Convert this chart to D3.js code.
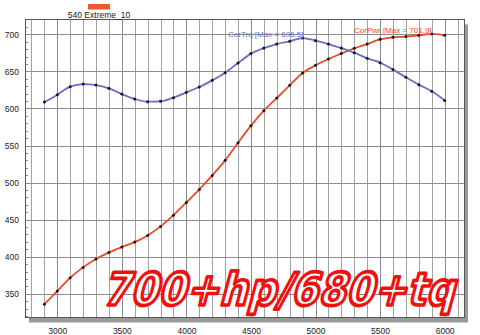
<!DOCTYPE html>
<html>
<head>
<meta charset="utf-8">
<script src="https://cdn.jsdelivr.net/npm/d3@7"></script>
<style>
	body { margin: 0; background: #fff; }
	svg { display: block; font-family: "Liberation Sans", Arial, sans-serif; }
</style>
</head>
<body>
<div id="chart"></div>
<script>
var rpm = [2900, 3000, 3100, 3200, 3300, 3400, 3500, 3600, 3700, 3800, 3900, 4000, 4100, 4200, 4300, 4400,
	4500, 4600, 4700, 4800, 4900, 5000, 5100, 5200, 5300, 5400, 5500, 5600, 5700, 5800, 5900, 6000];
var corTrq = [608.6, 618.6, 629.4, 632.9, 631.6, 627.1, 619.4, 612.7, 609.2, 609.6, 614.6, 621.7, 628.9, 637.9, 648.3, 661.3,
	674.0, 681.5, 686.9, 690.6, 695.0, 691.5, 686.9, 681.5, 675.3, 667.6, 661.8, 652.4, 642.0, 632.1, 623.1, 610.9];
var corPwr = [336.0, 353.6, 371.6, 385.6, 396.8, 405.8, 413.0, 419.7, 428.7, 440.9, 456.1, 473.3, 490.8, 509.7, 530.0, 553.8,
	576.8, 597.0, 614.0, 631.2, 647.8, 658.2, 666.7, 674.0, 681.1, 686.9, 693.3, 696.0, 696.9, 698.7, 700.5, 698.7];
var xTicks = [3000, 3500, 4000, 4500, 5000, 5500, 6000];
var yTicks = [350, 400, 450, 500, 550, 600, 650, 700];
var runName = "540 Extreme_10";
var trqLabel = "CorTrq [Max = 696.5]";
var pwrLabel = "CorPwr [Max = 701.9]";
var bigText = "700+hp/680+tq";

var config = {
	width: 480,
	height: 335,
	left: 25,
	top: 19.5,
	right: 464,
	bottom: 317.5,
	trqColor: "#6b6bd0",
	pwrColor: "#ee4a26",
	gridColor: "#a2a2a2"
};

var svg = d3.select("#chart").append("svg")
	.attr("width", config.width)
	.attr("height", config.height);

var x = d3.scaleLinear().domain([2750, 6150]).range([config.left, config.right]);
var y = d3.scaleLinear().domain([318, 720]).range([config.bottom, config.top]);

// drop shadow behind the plot frame
svg.append("rect")
	.attr("x", config.left + 4)
	.attr("y", config.top + 5)
	.attr("width", config.right - config.left)
	.attr("height", config.bottom - config.top)
	.attr("fill", "#9a9a9a");

svg.append("rect")
	.attr("x", config.left)
	.attr("y", config.top)
	.attr("width", config.right - config.left)
	.attr("height", config.bottom - config.top)
	.attr("fill", "#fff");

// vertical grid every 100 rpm
var vGrid = d3.range(2800, 6101, 100);
svg.append("g").selectAll("line").data(vGrid).enter().append("line")
	.attr("x1", function(d){ return Math.round(x(d)) + 0.5; })
	.attr("x2", function(d){ return Math.round(x(d)) + 0.5; })
	.attr("y1", config.top)
	.attr("y2", config.bottom)
	.attr("stroke", function(d){ return d % 500 === 0 ? "#8a8a8a" : config.gridColor; })
	.attr("stroke-width", 1);

// horizontal grid
svg.append("g").selectAll("line").data(yTicks).enter().append("line")
	.attr("x1", config.left)
	.attr("x2", config.right)
	.attr("y1", function(d){ return Math.round(y(d)) + 0.5; })
	.attr("y2", function(d){ return Math.round(y(d)) + 0.5; })
	.attr("stroke", "#8c8c8c")
	.attr("stroke-width", 1);

// minor ticks on the left axis
var minor = d3.range(320, 720, 10).filter(function(d){ return d % 50 !== 0; });
svg.append("g").selectAll("line").data(minor).enter().append("line")
	.attr("x1", config.left)
	.attr("x2", config.left + 3)
	.attr("y1", function(d){ return Math.round(y(d)) + 0.5; })
	.attr("y2", function(d){ return Math.round(y(d)) + 0.5; })
	.attr("stroke", "#888");

// frame
svg.append("rect")
	.attr("x", config.left + 0.5)
	.attr("y", config.top)
	.attr("width", config.right - config.left)
	.attr("height", config.bottom - config.top)
	.attr("fill", "none")
	.attr("stroke", "#555")
	.attr("stroke-width", 1);

// axis labels
var yAxis = svg.append("g")
	.attr("transform", "translate(" + config.left + ",0)")
	.call(d3.axisLeft(y).tickValues(yTicks).tickSize(0).tickPadding(6).tickFormat(d3.format("d")));
yAxis.select(".domain").remove();
yAxis.selectAll("text").attr("font-size", 8.5).attr("fill", "#222").attr("font-family", "Liberation Sans, Arial, sans-serif");

var xAxis = svg.append("g")
	.attr("transform", "translate(0," + (config.bottom + 5) + ")")
	.call(d3.axisBottom(x).tickValues(xTicks).tickSize(0).tickPadding(5).tickFormat(d3.format("d")));
xAxis.select(".domain").remove();
xAxis.selectAll("text").attr("font-size", 8.5).attr("fill", "#222").attr("font-family", "Liberation Sans, Arial, sans-serif");

// legend
svg.append("rect")
	.attr("x", 88)
	.attr("y", 4)
	.attr("width", 22)
	.attr("height", 5.5)
	.attr("fill", "#ec5a2c");
svg.append("text")
	.attr("x", 99)
	.attr("y", 17.5)
	.attr("text-anchor", "middle")
	.attr("font-size", 8.5)
	.attr("fill", "#222")
	.text(runName);

/* Draw curves */
var line = d3.line().curve(d3.curveMonotoneX);
function drawSeries(values, color){
	var pts = rpm.map(function(r, i){ return [x(r), y(values[i])]; });
	svg.append("path")
		.attr("d", line(pts))
		.attr("fill", "none")
		.attr("stroke", color)
		.attr("stroke-width", 1.8);
	svg.append("g").selectAll("circle").data(pts).enter().append("circle")
		.attr("cx", function(d){ return d[0]; })
		.attr("cy", function(d){ return d[1]; })
		.attr("r", 1.5)
		.attr("fill", "#1a1a1a");
}
drawSeries(corPwr, config.pwrColor);
drawSeries(corTrq, config.trqColor);

svg.append("text")
	.attr("x", 228)
	.attr("y", 36.5)
	.attr("font-size", 8)
	.attr("fill", config.trqColor)
	.text(trqLabel);
svg.append("text")
	.attr("x", 354)
	.attr("y", 33)
	.attr("font-size", 8)
	.attr("fill", config.pwrColor)
	.text(pwrLabel);

// stamped headline, heavy face slanted by hand
svg.append("text")
	.attr("transform", "translate(102,305) skewX(-15)")
	.attr("x", 0)
	.attr("y", 0)
	.attr("font-family", "DejaVu Sans, sans-serif")
	.attr("font-size", 45)
	.attr("font-weight", "bold")
	.attr("textLength", 352)
	.attr("lengthAdjust", "spacingAndGlyphs")
	.attr("fill", "#fff")
	.attr("stroke", "#f01010")
	.attr("stroke-width", 3.6)
	.attr("stroke-linejoin", "round")
	.text(bigText);
</script>
</body>
</html>
